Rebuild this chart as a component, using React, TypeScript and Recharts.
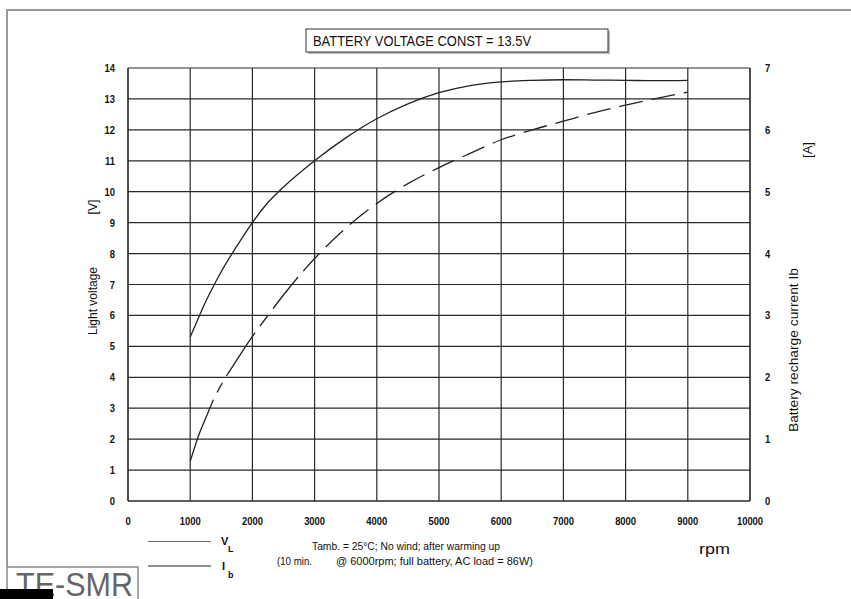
import React from 'react';
import { LineChart, Line, XAxis, YAxis, CartesianGrid } from 'recharts';

const rpm = [1000, 1150, 1250, 1375, 1500, 1750, 2000, 2250, 2500, 3000, 3500, 4000, 4500, 5000, 5500, 6000, 6500, 7000, 7500, 8000, 8500, 9000];
const lightVoltage = [5.3, 6.0, 6.45, 6.95, 7.42, 8.24, 9.0, 9.65, 10.15, 11.0, 11.74, 12.36, 12.84, 13.2, 13.43, 13.55, 13.6, 13.62, 13.61, 13.6, 13.59, 13.6];
const rechargeCurrent = [0.64, 1.1, 1.34, 1.64, 1.88, 2.28, 2.66, 3.0, 3.33, 3.92, 4.41, 4.81, 5.13, 5.39, 5.62, 5.84, 6.0, 6.14, 6.28, 6.4, 6.51, 6.61];

const xTicks = [0, 1000, 2000, 3000, 4000, 5000, 6000, 7000, 8000, 9000, 10000];
const leftTicks = [0, 1, 2, 3, 4, 5, 6, 7, 8, 9, 10, 11, 12, 13, 14];
const rightTicks = [0, 1, 2, 3, 4, 5, 6, 7];

const data = rpm.map((r, i) => ({ rpm: r, vl: lightVoltage[i], ib: rechargeCurrent[i] }));

const FONT = "'Liberation Sans', Arial, sans-serif";
const SX = 0.82;

function NarrowTick(props: any) {
  const { x, y, payload, textAnchor, verticalAnchor } = props;
  const dy = verticalAnchor === 'start' ? 8 : 4;
  return (
    <text
      transform={`translate(${x},${y + dy}) scale(${SX},1)`}
      textAnchor={textAnchor}
      fontFamily={FONT}
      fontSize={11.5}
      fontWeight={700}
      fill="#111"
    >
      {payload.value}
    </text>
  );
}

function NText(props: any) {
  const { x, y, size = 12, weight = 400, anchor = 'start', rotate = 0, len, fill = '#111', children } = props;
  return (
    <text
      transform={`translate(${x},${y}) rotate(${rotate})`}
      textAnchor={anchor}
      fontFamily={FONT}
      fontSize={size}
      fontWeight={weight}
      fill={fill}
      textLength={len}
      lengthAdjust={len ? 'spacingAndGlyphs' : undefined}
    >
      {children}
    </text>
  );
}

export default function App() {
  return (
    <div style={{ position: 'absolute', left: 0, top: 0, width: 851, height: 599, background: '#fff', overflow: 'hidden' }}>
      <LineChart width={851} height={599} data={data} margin={{ top: 68, right: 61, bottom: 68, left: 88 }}>
        <CartesianGrid yAxisId="left" stroke="#2a2a2a" strokeWidth={1.2} />
        <XAxis
          dataKey="rpm"
          type="number"
          domain={[0, 10000]}
          ticks={xTicks}
          interval={0}
          height={30}
          tickLine={false}
          tickSize={6}
          tickMargin={10}
          axisLine={{ stroke: '#2a2a2a', strokeWidth: 1.2 }}
          tick={<NarrowTick />}
        />
        <YAxis
          yAxisId="left"
          domain={[0, 14]}
          ticks={leftTicks}
          interval={0}
          width={40}
          tickLine={false}
          tickSize={10}
          tickMargin={3}
          axisLine={{ stroke: '#2a2a2a', strokeWidth: 1.2 }}
          tick={<NarrowTick />}
        />
        <YAxis
          yAxisId="right"
          orientation="right"
          domain={[0, 7]}
          ticks={rightTicks}
          interval={0}
          width={40}
          tickLine={false}
          tickSize={10}
          tickMargin={5}
          axisLine={{ stroke: '#2a2a2a', strokeWidth: 1.2 }}
          tick={<NarrowTick />}
        />
        <Line
          yAxisId="left"
          type="monotone"
          dataKey="vl"
          stroke="#222"
          strokeWidth={1.3}
          dot={false}
          isAnimationActive={false}
        />
        <Line
          yAxisId="right"
          type="monotone"
          dataKey="ib"
          stroke="#222"
          strokeWidth={1.3}
          strokeDasharray="66 8 11 8 52 8 14 8 40 8 24 9 24 9 24 9 24 9 24 9 24 9 24 9 24 9 24 9 24 9 24 9 24 9 24 9 24 9 24 9 24 9 24 9 24 9 24 9 24 9"
          dot={false}
          isAnimationActive={false}
        />
      </LineChart>
      <svg
        width={851}
        height={599}
        style={{ position: 'absolute', left: 0, top: 0, pointerEvents: 'none' }}
      >
        <path d="M7,567 L7,10 L851,10" fill="none" stroke="#9a9a9a" strokeWidth={2} />
        <rect x={308} y={31} width={302} height={23} fill="#bbb" />
        <rect x={306} y={29} width={302} height={23} fill="#fff" stroke="#333" strokeWidth={1} />
        <NText x={313} y={46} size={14} len={218}>BATTERY VOLTAGE CONST = 13.5V</NText>

        <NText x={97} y={301} size={13} anchor="middle" rotate={-90} len={68}>Light voltage</NText>
        <NText x={97} y={207} size={13} anchor="middle" rotate={-90} len={15}>[V]</NText>
        <NText x={812} y={150} size={13} anchor="middle" rotate={-90} len={16}>[A]</NText>
        <NText x={798} y={350} size={13} anchor="middle" rotate={-90} len={164}>Battery recharge current Ib</NText>

        <NText x={699} y={554} size={14} len={31}>rpm</NText>

        <line x1={148} y1={541.5} x2={211} y2={541.5} stroke="#666" strokeWidth={1.2} />
        <line x1={148} y1={566} x2={211} y2={566} stroke="#222" strokeWidth={1.2} />
        <NText x={221} y={545} size={11} weight={700}>V</NText>
        <NText x={228} y={552} size={9} weight={700}>L</NText>
        <NText x={222} y={570} size={11} weight={700}>I</NText>
        <NText x={228} y={578} size={9} weight={700}>b</NText>

        <NText x={312} y={550} size={10} len={188}>Tamb. = 25°C; No wind; after warming up</NText>
        <NText x={277} y={565} size={10} len={35}>(10 min.</NText>
        <NText x={336} y={565} size={10} len={197}>@ 6000rpm; full battery, AC load = 86W)</NText>

        <rect x={7} y={567} width={131} height={36} fill="#fff" stroke="#8a8a8a" strokeWidth={1.5} />
        <NText x={16} y={596} size={33} fill="#666" len={117}>TE-SMR</NText>
        <rect x={0} y={589} width={53} height={10} fill="#000" />
      </svg>
    </div>
  );
}
